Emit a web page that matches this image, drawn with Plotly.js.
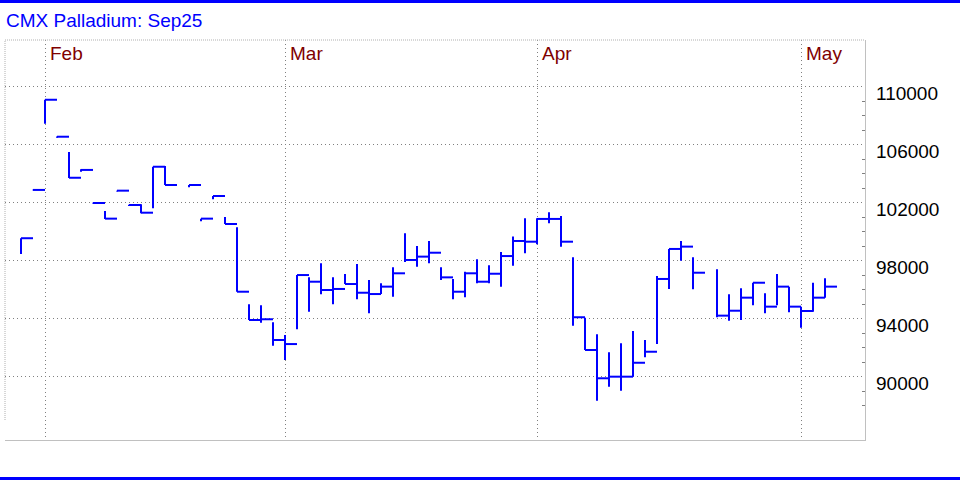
<!DOCTYPE html>
<html>
<head>
<meta charset="utf-8">
<script src="https://cdn.plot.ly/plotly-3.0.1.min.js"></script>
<style>
  html, body { margin: 0; padding: 0; background: #ffffff; }
  #chart { width: 960px; height: 480px; }
</style>
</head>
<body>
<div id="chart"></div>
<script>
// Daily HLC bars, CMX Palladium September 2025 contract (prices in cents/oz).
// One slot per weekday; null marks a weekday without a bar.
const dates = [
  '2025-01-30','2025-01-31',
  '2025-02-03','2025-02-04','2025-02-05','2025-02-06','2025-02-07',
  '2025-02-10','2025-02-11','2025-02-12','2025-02-13','2025-02-14',
  '2025-02-17','2025-02-18','2025-02-19','2025-02-20','2025-02-21',
  '2025-02-24','2025-02-25','2025-02-26','2025-02-27','2025-02-28',
  '2025-03-03','2025-03-04','2025-03-05','2025-03-06','2025-03-07',
  '2025-03-10','2025-03-11','2025-03-12','2025-03-13','2025-03-14',
  '2025-03-17','2025-03-18','2025-03-19','2025-03-20','2025-03-21',
  '2025-03-24','2025-03-25','2025-03-26','2025-03-27','2025-03-28',
  '2025-03-31','2025-04-01','2025-04-02','2025-04-03','2025-04-04',
  '2025-04-07','2025-04-08','2025-04-09','2025-04-10','2025-04-11',
  '2025-04-14','2025-04-15','2025-04-16','2025-04-17','2025-04-18',
  '2025-04-21','2025-04-22','2025-04-23','2025-04-24','2025-04-25',
  '2025-04-28','2025-04-29','2025-04-30','2025-05-01','2025-05-02',
  '2025-05-05'
];

const high = [
  99550, 102900,
  109100, 106560, 105500, 104300, 102000,
  101430, 102830, 101850, 101890, 104480,
  104530, null, 103220, 100900, 102460,
  101010, 100300, 94990, 94920, 93750,
  92880, 97010, 96850, 97820, 96850,
  97080, 97770, 96670, 96440, 97540,
  99890, 99010, 99360, 97540, 96740,
  97240, 98100, 97680, 98600, 99660,
  100920, 100920, 101340, 101080, 98230,
  94070, 92920, 91680, 92300, 93150,
  92530, 96940, 98810, 99360, 98230,
  null, 97410, 95680, 96100, 96480,
  95750, 97080, 96210, 94830, 96480,
  96790
];

const low = [
  98470, 102850,
  107450, 106480, 103700, 104140, 101950,
  100870, 102780, 101780, 101270, 101610,
  103220, null, 103060, 100720, 102230,
  100530, 95860, 93910, 93720, 92140,
  91150, 93270, 94480, 95680, 94990,
  96390, 95340, 94370, 95700, 95520,
  97910, 97590, 97820, 96670, 95340,
  95480, 96440, 96440, 96210, 97650,
  98510, 99130, 100580, 98970, 93520,
  91840, 88340, 89310, 89030, 90000,
  91340, 92250, 96050, 98000, 96030,
  null, 94100, 93860, 93910, 94920,
  94370, 94920, 94440, 93380, 94480,
  95450
];

const close = [
  99550, 102880,
  109100, 106550, 103720, 104260, 101980,
  100900, 102830, 101840, 101310, 104480,
  103220, null, 103220, 100900, 102460,
  100530, 95860, 93910, 93960, 92530,
  92250, 97010, 96550, 95980, 96050,
  96390, 95790, 95700, 96210, 97130,
  98050, 98280, 98550, 96850, 95860,
  97130, 96550, 97100, 98320, 99360,
  99310, 100880, 100880, 99310, 94100,
  91840, 89890, 90000, 90000, 90960,
  91720, 96740, 98810, 98970, 97170,
  null, 94210, 94550, 95450, 96480,
  94830, 96210, 94830, 94530, 95450,
  96210
];

const monthNames = ['Jan','Feb','Mar','Apr','May','Jun','Jul','Aug','Sep','Oct','Nov','Dec'];
const priceTicks = [90000, 94000, 98000, 102000, 106000, 110000];
const minorPriceTicks = [88000, 89000, 91000, 92000, 93000, 95000, 96000, 97000,
  99000, 100000, 101000, 103000, 104000, 105000, 107000, 108000, 109000];

// ---- styling ----
const FONT = '"Liberation Sans", Arial, Helvetica, sans-serif';
const FONT_SIZE = 19;
const BAR_BLUE = '#0000ff';
const TICK_SPAN = 1;        // close tick reaches the next slot
const SLOTS_LEFT = -1.333;  // x-axis range in slots
const SLOTS_RIGHT = 70.333;

// Build the HLC path: a vertical high-low stroke plus a right-hand close tick.
const px = [], py = [];
dates.forEach((d, i) => {
  if (high[i] == null) return;
  px.push(i, i, null, i, i + TICK_SPAN, null);
  py.push(low[i], high[i], null, close[i], close[i], null);
});

// First slot of each month gets a grid line and a month label.
const monthIdx = [], monthText = [];
dates.forEach((d, i) => {
  const m = d.slice(0, 7);
  if (i > 0 && m !== dates[i - 1].slice(0, 7)) {
    monthIdx.push(i);
    monthText.push(monthNames[parseInt(d.slice(5, 7), 10) - 1]);
  }
});

const trace = {
  type: 'scatter',
  mode: 'lines',
  x: px,
  y: py,
  connectgaps: false,
  line: { color: BAR_BLUE, width: 2 },
  hoverinfo: 'skip'
};

// Month names sit just right of their grid line, inside the top of the plot.
const monthLabels = monthIdx.map((idx, k) => ({
  x: idx, xref: 'x',
  y: 1, yref: 'paper',
  xanchor: 'left', yanchor: 'top',
  xshift: 3, yshift: -1,
  showarrow: false,
  text: monthText[k],
  font: { family: FONT, size: FONT_SIZE, color: '#800000' }
}));

// Price labels on the right, hanging just below their grid lines.
const priceLabels = priceTicks.map(v => ({
  x: 1, xref: 'paper',
  y: v, yref: 'y',
  xanchor: 'left', yanchor: 'middle',
  xshift: 9, yshift: -6.5,
  showarrow: false,
  text: String(v),
  font: { family: FONT, size: FONT_SIZE, color: '#000000' }
}));

// pixel helpers for shapes living outside the plot area (plot: 5..865 x 40..440)
const pxToPaperX = v => (v - 5) / 860;
const pxToPaperY = v => (440 - v) / 400;

const layout = {
  width: 960,
  height: 480,
  margin: { l: 5, r: 95, t: 40, b: 40 },
  paper_bgcolor: '#ffffff',
  plot_bgcolor: '#ffffff',
  showlegend: false,
  font: { family: FONT, size: FONT_SIZE, color: '#000000' },
  title: {
    text: 'CMX Palladium: Sep25',
    font: { family: FONT, size: FONT_SIZE, color: BAR_BLUE },
    x: 6 / 960, xanchor: 'left', xref: 'container',
    y: 1 - 20.5 / 480, yanchor: 'middle', yref: 'container'
  },
  xaxis: {
    range: [SLOTS_LEFT, SLOTS_RIGHT],
    tickmode: 'array',
    tickvals: monthIdx,
    showticklabels: false,
    ticks: '',
    showgrid: true,
    gridcolor: '#808080',
    griddash: '1px,3px',
    gridwidth: 1,
    zeroline: false,
    showline: true,
    linecolor: '#c0c0c0',
    linewidth: 1,
    fixedrange: true
  },
  yaxis: {
    side: 'right',
    range: [85633, 113221],
    tickmode: 'array',
    tickvals: priceTicks,
    showticklabels: false,
    ticks: '',
    showgrid: true,
    gridcolor: '#808080',
    griddash: '1px,3px',
    gridwidth: 1,
    zeroline: false,
    showline: true,
    linecolor: '#c0c0c0',
    linewidth: 1,
    minor: {
      tickmode: 'array',
      tickvals: minorPriceTicks,
      ticks: 'inside',
      ticklen: 3,
      tickwidth: 1,
      tickcolor: '#808080',
      showgrid: false
    },
    fixedrange: true
  },
  annotations: monthLabels.concat(priceLabels),
  shapes: [
    // frame rules above and below the chart
    { type: 'line', xref: 'paper', yref: 'paper',
      x0: pxToPaperX(0), x1: pxToPaperX(960), y0: pxToPaperY(1.5), y1: pxToPaperY(1.5),
      line: { color: BAR_BLUE, width: 3 } },
    { type: 'line', xref: 'paper', yref: 'paper',
      x0: pxToPaperX(0), x1: pxToPaperX(960), y0: pxToPaperY(478.5), y1: pxToPaperY(478.5),
      line: { color: BAR_BLUE, width: 3 } },
    // light dotted top and left edges of the plot
    { type: 'line', xref: 'paper', yref: 'paper',
      x0: 0, x1: 1, y0: 1, y1: 1,
      line: { color: '#b0b0b0', width: 1, dash: '1px,1px' } },
    { type: 'line', xref: 'paper', yref: 'paper',
      x0: 0, x1: 0, y0: pxToPaperY(420), y1: 1,
      line: { color: '#b0b0b0', width: 1, dash: '1px,1px' } }
  ]
};

Plotly.newPlot('chart', [trace], layout, { staticPlot: true, displayModeBar: false });
</script>
</body>
</html>
